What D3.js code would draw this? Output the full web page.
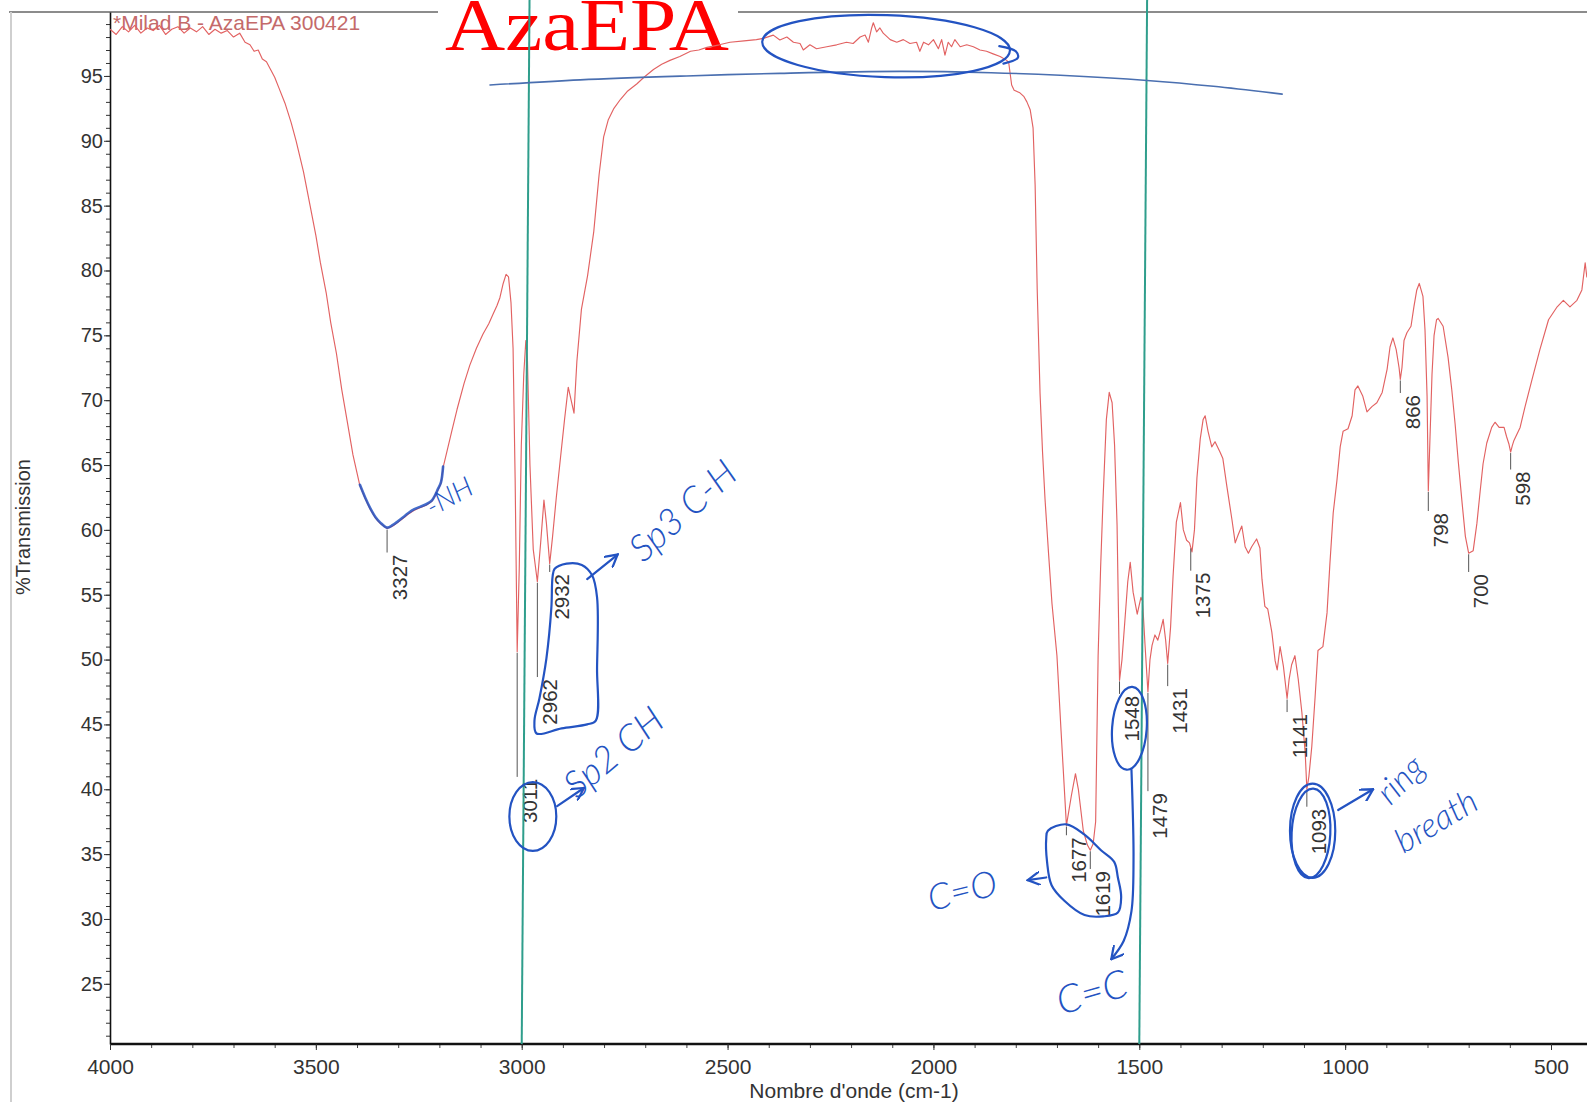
<!DOCTYPE html>
<html><head><meta charset="utf-8">
<script src="https://cdn.jsdelivr.net/npm/d3@7"></script>
<style>body{margin:0;background:#fff;} svg{display:block;}</style>
</head><body>
<svg id="chart" width="1587" height="1102"></svg>
<script>
// ---------- DATA ----------
const spectrum = [[4000,98.6],[3985,98.2],[3970,98.8],[3955,98.4],[3940,98.9],[3925,98.3],[3910,98.7],[3895,98.5],[3880,98.9],[3865,98.2],[3850,98.6],[3835,98.8],[3820,98.3],[3805,98.7],[3790,98.4],[3775,98.8],[3760,98.2],[3745,98.6],[3730,98.3],[3715,98.5],[3700,98.0],[3685,98.3],[3672,97.6],[3660,97.4],[3650,96.9],[3640,97.0],[3630,96.3],[3620,96.1],[3610,95.5],[3600,94.9],[3590,94.1],[3575,92.9],[3560,91.4],[3548,90.0],[3530,87.6],[3514,85.0],[3500,82.7],[3489,80.6],[3475,78.3],[3464,76.0],[3450,73.6],[3437,70.8],[3424,68.4],[3410,65.8],[3393,63.4],[3380,62.4],[3368,61.6],[3355,60.9],[3344,60.5],[3327,60.1],[3313,60.3],[3300,60.6],[3288,60.9],[3276,61.2],[3262,61.5],[3247,61.7],[3232,61.9],[3218,62.2],[3203,63.1],[3196,63.6],[3191,64.8],[3182,66.0],[3170,67.6],[3157,69.3],[3140,71.3],[3126,72.7],[3110,74.0],[3094,75.1],[3080,75.9],[3070,76.6],[3060,77.3],[3053,77.9],[3045,79.0],[3038,79.7],[3032,79.5],[3026,77.5],[3021,74.0],[3016,64.0],[3011,50.6],[3006,57.0],[3001,66.5],[2995,72.0],[2990,74.6],[2986,73.0],[2980,65.0],[2972,58.5],[2962,56.0],[2954,59.0],[2946,62.3],[2940,60.5],[2932,57.4],[2925,59.5],[2916,62.5],[2906,65.5],[2896,68.5],[2887,71.0],[2880,70.0],[2873,69.0],[2866,73.0],[2855,77.0],[2840,79.6],[2825,83.0],[2812,87.4],[2801,90.3],[2790,91.6],[2776,92.5],[2760,93.2],[2744,93.8],[2720,94.4],[2703,94.9],[2680,95.5],[2660,95.9],[2640,96.2],[2616,96.5],[2590,96.9],[2570,97.0],[2550,97.2],[2520,97.4],[2494,97.6],[2460,97.7],[2430,97.8],[2413,97.9],[2389,98.15],[2373,97.77],[2356,98.0],[2340,97.6],[2324,97.5],[2316,97.0],[2300,97.4],[2284,97.1],[2259,97.25],[2235,97.4],[2211,97.6],[2195,97.5],[2178,98.0],[2166,98.15],[2158,97.6],[2150,98.7],[2146,99.1],[2138,98.4],[2130,98.7],[2122,98.3],[2105,97.8],[2089,97.6],[2073,97.8],[2057,97.5],[2041,97.6],[2033,96.9],[2024,97.6],[2012,97.4],[2000,97.8],[1988,97.1],[1980,97.8],[1972,96.6],[1964,97.6],[1956,97.25],[1948,97.8],[1935,97.25],[1919,97.4],[1903,97.25],[1887,97.0],[1871,96.9],[1855,96.7],[1838,96.5],[1822,96.2],[1817,96.0],[1810,94.3],[1804,93.9],[1790,93.7],[1780,93.4],[1773,93.0],[1765,92.4],[1758,91.0],[1753,86.6],[1748,78.6],[1741,70.5],[1735,66.0],[1729,62.4],[1720,58.0],[1712,54.3],[1700,50.3],[1690,44.5],[1677,37.2],[1665,39.5],[1655,41.2],[1648,40.0],[1636,36.8],[1626,35.7],[1619,35.3],[1612,35.8],[1606,37.5],[1600,50.3],[1594,57.0],[1588,62.4],[1580,68.5],[1573,70.6],[1566,69.8],[1560,66.5],[1554,60.4],[1548,48.4],[1542,50.0],[1535,53.0],[1528,56.0],[1522,57.5],[1515,55.2],[1505,53.5],[1496,54.8],[1492,54.5],[1486,51.1],[1479,47.5],[1474,50.0],[1469,51.1],[1462,51.9],[1455,51.5],[1448,52.3],[1442,53.1],[1436,51.5],[1431,49.7],[1424,52.5],[1418,56.4],[1410,60.6],[1400,62.1],[1393,60.0],[1385,59.2],[1378,59.0],[1372,58.3],[1366,60.0],[1360,64.0],[1352,67.0],[1345,68.5],[1340,68.8],[1333,67.6],[1324,66.4],[1316,66.8],[1304,66.0],[1297,65.5],[1287,63.3],[1275,60.8],[1267,59.0],[1260,59.6],[1251,60.3],[1243,58.7],[1235,58.2],[1227,58.7],[1215,59.3],[1207,58.6],[1202,56.2],[1195,54.1],[1188,53.9],[1178,52.1],[1170,49.9],[1165,49.2],[1158,51.0],[1150,49.5],[1141,47.0],[1136,48.5],[1130,49.6],[1122,50.3],[1114,48.5],[1105,45.9],[1097,42.8],[1093,40.0],[1088,41.0],[1081,43.3],[1073,47.1],[1066,50.7],[1054,51.0],[1044,53.6],[1037,57.4],[1029,61.3],[1020,63.8],[1012,66.4],[1005,67.6],[993,67.8],[983,68.8],[976,70.8],[969,71.1],[957,70.3],[947,69.1],[935,69.5],[923,69.8],[910,70.6],[898,72.4],[891,74.1],[884,74.8],[876,73.9],[869,72.5],[866,71.6],[862,72.5],[857,74.6],[850,75.2],[840,75.7],[833,77.2],[826,78.5],[820,79.0],[811,78.0],[806,75.4],[801,70.3],[798,63.0],[794,67.0],[789,72.0],[784,75.0],[778,76.2],[774,76.3],[762,75.7],[750,73.3],[741,70.8],[733,68.2],[725,65.2],[716,62.1],[708,59.5],[700,58.2],[689,58.4],[680,60.5],[672,63.0],[665,65.1],[656,66.7],[644,67.9],[636,68.3],[626,67.9],[614,67.9],[608,67.2],[602,66.6],[598,66.0],[594,66.5],[590,66.9],[575,67.9],[563,69.5],[546,71.6],[527,73.9],[506,76.2],[485,77.2],[470,77.7],[454,77.2],[437,77.7],[425,78.5],[417,80.6],[413,79.5],[405,80.5],[400,80.8]];

const xTickValues = [4000,3500,3000,2500,2000,1500,1000,500];
const yTickValues = [25,30,35,40,45,50,55,60,65,70,75,80,85,90,95];
const peakWavenumbers = [3327,3011,2962,2932,1677,1619,1548,1479,1431,1375,1141,1093,866,798,700,598];
const peakLabelLevels = [58.1,40.8,48.5,56.6,36.3,33.7,47.2,39.7,47.8,56.7,45.8,38.5,70.4,61.3,56.6,64.5];
const markerWavenumbers = [[2981,3000],[1481,1500]];   // hand-ruled lines (top, bottom)

// hand-drawn annotations (wavenumber, %T)
const nhRange = [3398,3186];
const blueBaseline = [[3077,94.3],[2858,94.7],[2600,95.0],[2373,95.2],[2081,95.35],[1860,95.25],[1692,95.05],[1481,94.65],[1320,94.2],[1153,93.6]];
const ellipses = [
  {wn:2115,t:97.3,rw:301,rt:2.39,rot:2},
  {wn:2973,t:37.9,rw:57,rt:2.65,rot:0},
  {wn:1524,t:44.7,rw:42,rt:3.2,rot:4},
  {wn:1079,t:36.8,rw:55,rt:3.63,rot:0},
  {wn:1083,t:36.6,rw:47,rt:3.45,rot:3}
];
const shape2962 = [[2920,57.0],[2891,57.4],[2854,57.3],[2829,56.5],[2817,54.8],[2817,49.35],[2820,45.3],[2841,45.0],[2903,44.7],[2964,44.3],[2969,45.3],[2957,47.0],[2940,50.1],[2928,54.0],[2925,56.4]];
const shapeCO = [[1722,36.8],[1677,37.3],[1633,36.5],[1593,35.3],[1561,34.4],[1552,33.2],[1544,31.7],[1552,30.5],[1588,30.2],[1633,30.3],[1682,31.4],[1713,32.6],[1724,34.4],[1726,36.2]];
const hookTop = [[1840,97.3],[1800,96.9],[1795,96.4],[1830,95.95]];
const arrows = [
  [[2914,38.7],[2849,40.1]],
  [[2841,56.2],[2767,58.1]],
  [[1726,33.2],[1771,33.0]],
  [[1519,41.5],[1514,34.5],[1519,30.6],[1538,28.3],[1568,26.9]],
  [[1017,38.4],[932,40.0]]
];
const notes = [
  {text:'-NH',wn:3217,t:61.0,rot:-29,size:28},
  {text:'Sp2 CH',wn:2866,t:39.2,rot:-40,size:37},
  {text:'Sp3 C-H',wn:2705,t:57.4,rot:-42,size:37},
  {text:'C=O',wn:2005,t:30.6,rot:-14,size:36},
  {text:'C=C',wn:1690,t:22.6,rot:-16,size:39},
  {text:'ring',wn:890,t:38.7,rot:-45,size:34},
  {text:'breath',wn:858,t:35.0,rot:-31,size:34}
];

// ---------- CHART ----------
const svg = d3.select('#chart');
const x = d3.scaleLinear().domain([4000,500]).range([110,1551]);
const y = d3.scaleLinear().domain([20.36,99.93]).range([1044,12]);
const RED = '#e26262', BLUE = '#2353c2', TEAL = '#2f9e8c';
const sans = "'Liberation Sans', Arial, sans-serif";
const hand = "Lato, 'Open Sans', sans-serif";

svg.append('rect').attr('width',1587).attr('height',1102).attr('fill','#fff');
const defs = svg.append('defs');
defs.append('clipPath').attr('id','plot').append('rect')
  .attr('x',110).attr('y',12).attr('width',1477).attr('height',1032);
defs.append('marker').attr('id','ah').attr('viewBox','0 0 10 10')
  .attr('refX',9).attr('refY',5).attr('markerWidth',14).attr('markerHeight',14)
  .attr('markerUnits','userSpaceOnUse').attr('orient','auto')
  .append('path').attr('d','M0,0 L9,5 L0,10').attr('fill','none').attr('stroke',BLUE).attr('stroke-width',1.6);

// frame
svg.append('line').attr('x1',9).attr('x2',1587).attr('y1',12).attr('y2',12).attr('stroke','#8c8c8c').attr('stroke-width',2);
svg.append('line').attr('x1',11).attr('x2',11).attr('y1',12).attr('y2',1102).attr('stroke','#cfcfcf').attr('stroke-width',2);

// y axis
const yMinor = d3.range(21,100);
svg.append('g').attr('transform','translate(110,0)')
  .call(d3.axisLeft(y).tickValues(yMinor).tickSize(4).tickSizeOuter(0).tickFormat(''))
  .call(g=>g.select('.domain').remove())
  .call(g=>g.selectAll('line').attr('stroke','#333'));
const yAx = svg.append('g').attr('transform','translate(110,0)')
  .call(d3.axisLeft(y).tickValues(yTickValues).tickSize(6).tickSizeOuter(0).tickPadding(1).tickFormat(d3.format('d')));
yAx.select('.domain').attr('stroke','#111').attr('stroke-width',1.6);
yAx.selectAll('line').attr('stroke','#333');
yAx.selectAll('text').attr('font-family',sans).attr('font-size',20).attr('fill','#333');

// x axis
const xMinor = d3.range(4000,399,-100);
svg.append('g').attr('transform','translate(0,1044)')
  .call(d3.axisBottom(x).tickValues(xMinor).tickSize(4).tickSizeOuter(0).tickFormat(''))
  .call(g=>g.select('.domain').remove())
  .call(g=>g.selectAll('line').attr('stroke','#444'));
const xAx = svg.append('g').attr('transform','translate(0,1044)')
  .call(d3.axisBottom(x).tickValues(xTickValues).tickSize(6).tickSizeOuter(0).tickPadding(9).tickFormat(d3.format('d')));
xAx.select('.domain').attr('d','M110,0H1587').attr('stroke','#111').attr('stroke-width',2.6);
xAx.selectAll('line').attr('stroke','#333');
xAx.selectAll('text').attr('font-family',sans).attr('font-size',21).attr('fill','#333');

// axis titles
svg.append('text').attr('transform','translate(30,527) rotate(-90)').attr('text-anchor','middle')
  .attr('font-family',sans).attr('font-size',20).attr('fill','#333').text('%Transmission');
svg.append('text').attr('x',854).attr('y',1098).attr('text-anchor','middle')
  .attr('font-family',sans).attr('font-size',21).attr('fill','#333').text("Nombre d'onde (cm-1)");

// title
svg.append('rect').attr('x',438).attr('y',0).attr('width',300).attr('height',22).attr('fill','#fff');
svg.append('text').attr('x',445).attr('y',50).attr('font-family',"'Liberation Serif','Times New Roman',serif")
  .attr('font-size',74).attr('textLength',284).attr('lengthAdjust','spacingAndGlyphs')
  .attr('fill','#ff0000').text('AzaEPA');

// sample name
svg.append('text').attr('x',113).attr('y',30).attr('font-family',sans).attr('font-size',21)
  .attr('fill','#c46a6a').text('*Milad B - AzaEPA 300421');

const plot = svg.append('g').attr('clip-path','url(#plot)');
const line = d3.line().x(d=>x(d[0])).y(d=>y(d[1]));

// spectrum
plot.append('path').datum(spectrum).attr('d',line).attr('fill','none')
  .attr('stroke',RED).attr('stroke-width',1.15).attr('stroke-linejoin','round');

// interpolation helper
function valueAt(wn){
  for(let i=0;i<spectrum.length-1;i++){
    const a=spectrum[i], b=spectrum[i+1];
    if(wn<=a[0] && wn>=b[0]){ const f=(a[0]-wn)/(a[0]-b[0]); return a[1]+f*(b[1]-a[1]); }
  }
  return spectrum[spectrum.length-1][1];
}

// peak labels
const pk = svg.append('g');
peakWavenumbers.forEach((wn,i)=>{
  const px = x(wn), py0 = y(valueAt(wn)), py1 = y(peakLabelLevels[i]);
  pk.append('line').attr('x1',px).attr('x2',px).attr('y1',py0+1).attr('y2',py1-2)
    .attr('stroke','#555').attr('stroke-width',1);
  pk.append('text').attr('transform',`translate(${px+19.5},${py1}) rotate(-90)`)
    .attr('text-anchor','end').attr('font-family',sans).attr('font-size',20.5).attr('fill','#333').text(wn);
});

// ruled teal lines
markerWavenumbers.forEach(m=>{
  svg.append('line').attr('x1',x(m[0])).attr('y1',0).attr('x2',x(m[1])).attr('y2',1044)
    .attr('stroke',TEAL).attr('stroke-width',2);
});

// hand annotations
const ann = svg.append('g').attr('fill','none').attr('stroke',BLUE).attr('stroke-width',2.2)
  .attr('stroke-linecap','round').attr('stroke-linejoin','round');
ann.append('path').datum(spectrum.filter(d=>d[0]<=nhRange[0]&&d[0]>=nhRange[1]))
  .attr('d',d3.line().x(d=>x(d[0])).y(d=>y(d[1])-1).curve(d3.curveCatmullRom)).attr('stroke-width',2.6).attr('opacity',0.85);
ann.append('path').datum(blueBaseline).attr('d',d3.line().x(d=>x(d[0])).y(d=>y(d[1])).curve(d3.curveCatmullRom))
  .attr('stroke','#4a6fb0').attr('stroke-width',1.6);
ellipses.forEach(e=>{
  const cx=x(e.wn), cy=y(e.t), rx=Math.abs(x(e.wn-e.rw)-cx), ry=Math.abs(y(e.t-e.rt)-cy);
  ann.append('ellipse').attr('cx',cx).attr('cy',cy).attr('rx',rx).attr('ry',ry)
    .attr('transform',`rotate(${e.rot},${cx},${cy})`);
});
const closed = d3.line().x(d=>x(d[0])).y(d=>y(d[1])).curve(d3.curveCatmullRomClosed);
ann.append('path').datum(shape2962).attr('d',closed);
ann.append('path').datum(shapeCO).attr('d',closed);
ann.append('path').datum(hookTop).attr('d',d3.line().x(d=>x(d[0])).y(d=>y(d[1])).curve(d3.curveCatmullRom));
arrows.forEach(a=>{
  ann.append('path').datum(a).attr('d',d3.line().x(d=>x(d[0])).y(d=>y(d[1])).curve(d3.curveCatmullRom))
    .attr('marker-end','url(#ah)');
});
notes.forEach(n=>{
  svg.append('text').attr('transform',`translate(${x(n.wn)},${y(n.t)}) rotate(${n.rot})`)
    .attr('font-family',hand).attr('font-style','italic').attr('font-weight',300)
    .attr('font-size',n.size).attr('fill',BLUE).text(n.text);
});
</script>
</body></html>
